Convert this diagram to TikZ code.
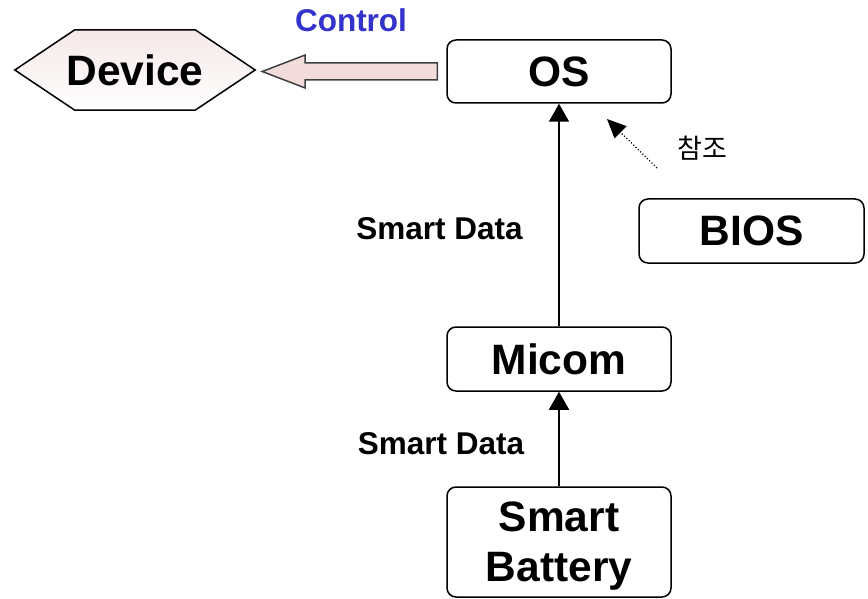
\documentclass[tikz,border=0pt]{standalone}
\usepackage{fontspec}
\setmainfont{Liberation Sans}
\newfontfamily\krfont{Noto Sans CJK KR}
\usetikzlibrary{arrows.meta,calc}
\definecolor{ctlblue}{RGB}{51,51,204}
\definecolor{blockpink}{RGB}{242,220,219}
\definecolor{hexpink}{RGB}{245,232,232}
\tikzset{
  box/.style={draw=black, line width=1.5pt, rounded corners=9pt, fill=white,
    minimum width=224pt, align=center,
    font=\fontsize{42.5}{50}\selectfont\bfseries},
  lbl/.style={font=\fontsize{31.5}{36}\selectfont\bfseries},
  flow/.style={line width=1.8pt, -{Triangle[width=20pt,length=18pt]}},
  refarrow/.style={line width=1.2pt, dotted, -{Triangle[width=17pt,length=19pt]}},
}
\begin{document}
\begin{tikzpicture}[x=1pt,y=-1pt]
\useasboundingbox (0,0) rectangle (868,599);

% boxes
\node[box, minimum height=63pt] (os) at (559,71.5) {OS};
\node[box, minimum height=64pt] (micom) at (559,359) {Micom};
\node[box, minimum height=110pt, inner sep=0pt, text depth=0pt] (battery) at (559,542) {Smart\\Battery};
\node[box, minimum width=225pt, minimum height=64pt] (bios) at (751.5,231) {BIOS};

% device hexagon
\node[minimum width=240pt, minimum height=80pt, inner sep=0pt] (device) at (135,70) {};
\draw[line width=1.5pt, top color=hexpink, bottom color=white]
  (device.west) -- ([xshift=60pt]device.north west) -- ([xshift=-60pt]device.north east)
  -- (device.east) -- ([xshift=-60pt]device.south east) -- ([xshift=60pt]device.south west)
  -- cycle;
\node[font=\fontsize{42.5}{49}\selectfont\bfseries] at (device.center) {Device};

% control block arrow from OS to Device
\coordinate (ctlend) at ([xshift=-9pt]os.west);
\coordinate (ctltip) at ([xshift=7pt]device.east |- ctlend);
\coordinate (ctlhead) at ([xshift=43pt]ctltip);
\draw[line width=1.5pt, draw=black!75, fill=blockpink]
  ([yshift=8.5pt]ctlend) -- ([yshift=8.5pt]ctlhead |- ctlend)
  -- ([yshift=16.5pt]ctlhead) -- (ctltip) -- ([yshift=-16.5pt]ctlhead)
  -- ([yshift=-8.5pt]ctlhead |- ctlend) -- ([yshift=-8.5pt]ctlend) -- cycle;
\node[lbl, text=ctlblue] (ctl) at (351,20) {Control};

% data flow
\draw[flow] (battery) -- (micom);
\draw[flow] (micom) -- (os);
\node[lbl] (sd1) at (439.5,229) {Smart Data};
\node[lbl] (sd2) at (441,444) {Smart Data};

% BIOS reference
\coordinate (refstart) at (657,168);
\coordinate (reftip) at (607,119);
\draw[refarrow] (refstart) -- (reftip);
\node[font=\krfont\fontsize{27}{32}\selectfont] (ref) at (702,148) {참조};
\end{tikzpicture}
\end{document}
